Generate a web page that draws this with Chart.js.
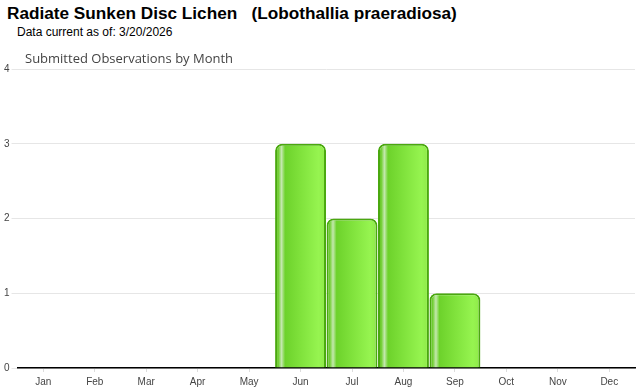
<!DOCTYPE html>
<html>
<head>
<meta charset="utf-8">
<script src="https://cdn.jsdelivr.net/npm/chart.js@4.4.1/dist/chart.umd.min.js"></script>
<style>
  body { margin: 0; background: #fff; width: 640px; height: 390px; overflow: hidden; position: relative; }
  #title { position: absolute; left: 7px; top: 3px; font: bold 17.2px "Liberation Sans", Arial, sans-serif; white-space: pre; color: #000; }
  #asof { position: absolute; left: 17px; top: 25px; font: 12px "Liberation Sans", Arial, sans-serif; color: #000; }
  #chartTitle { position: absolute; left: 25px; top: 49px; font: 13px "Open Sans", sans-serif; color: #444; }
  #wrap { position: absolute; left: 0; top: 44px; width: 640px; height: 348px; }
</style>
</head>
<body>
<div id="title">Radiate Sunken Disc Lichen   (Lobothallia praeradiosa)</div>
<div id="asof">Data current as of: 3/20/2026</div>
<div id="wrap"><canvas id="id-chartMonths"></canvas></div>
<div id="chartTitle">Submitted Observations by Month</div>
<script>
var monthLabels = ["Jan", "Feb", "Mar", "Apr", "May", "Jun", "Jul", "Aug", "Sep", "Oct", "Nov", "Dec"];
var observationCounts = [0, 0, 0, 0, 0, 3, 2, 3, 1, 0, 0, 0];

// horizontal shine across each bar
function barGradient(context) {
  var chart = context.chart;
  var xScale = chart.scales.x;
  if (!xScale || !chart.chartArea) return "#7ad936";
  var center = xScale.getPixelForValue(context.dataIndex);
  var half = xScale.width / monthLabels.length / 2;
  var g = chart.ctx.createLinearGradient(center - half, 0, center + half, 0);
  g.addColorStop(0, "#58b81a");
  g.addColorStop(0.07, "#72cf34");
  g.addColorStop(0.13, "#c4e8ae");
  g.addColorStop(0.2, "#6dd22b");
  g.addColorStop(0.5, "#80e23c");
  g.addColorStop(0.85, "#96f450");
  g.addColorStop(1, "#8ee848");
  return g;
}

new Chart("id-chartMonths", {
  type: "bar",
  data: {
    labels: monthLabels,
    datasets: [{
      data: observationCounts,
      backgroundColor: barGradient,
      borderColor: "#4aa80f",
      borderWidth: 2,
      borderRadius: {topLeft: 7, topRight: 7, bottomLeft: 0, bottomRight: 0},
      borderSkipped: "bottom",
      barPercentage: 0.99,
      categoryPercentage: 1
    }]
  },
  options: {
    responsive: true,
    maintainAspectRatio: false,
    animation: false,
    layout: {padding: {left: 2, right: 5, top: 25, bottom: 0}},
    plugins: {
      legend: {display: false},
      tooltip: {enabled: false},
      title: {display: false}
    },
    scales: {
      x: {
        grid: {display: true, drawOnChartArea: false, offset: false, tickLength: 4, color: "#ddd"},
        border: {display: true, color: "#000", width: 1.5},
        ticks: {color: "#444", font: {family: "'Liberation Sans', Arial", size: 10}, padding: 4, maxRotation: 0}
      },
      y: {
        min: 0,
        max: 4,
        grid: {color: "#e6e6e6", tickLength: 6},
        border: {display: false},
        ticks: {stepSize: 1, color: "#444", font: {family: "'Liberation Sans', Arial", size: 10}, padding: 2}
      }
    }
  }
});
</script>
</body>
</html>
